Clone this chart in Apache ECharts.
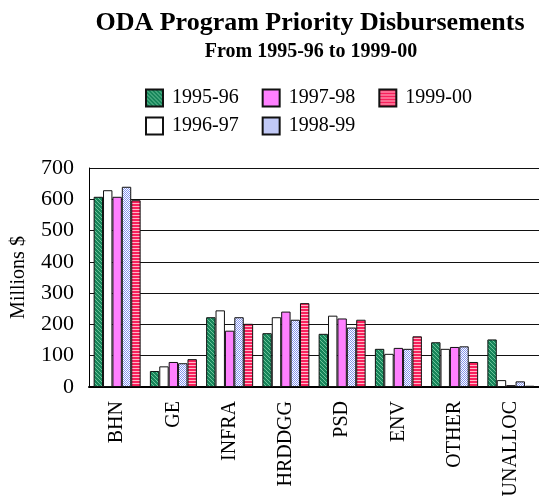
<!DOCTYPE html>
<html><head><meta charset="utf-8">
<script src="https://cdn.jsdelivr.net/npm/echarts@6/dist/echarts.min.js"></script>
<style>html,body{margin:0;padding:0;background:#fff}#c{width:539px;height:504px}</style>
</head><body><div id="c"></div>
<script>
const categories = ['BHN','GE','INFRA','HRDDGG','PSD','ENV','OTHER','UNALLOC'];
const seriesNames = ['1995-96','1996-97','1997-98','1998-99','1999-00'];
const v199596 = [608, 51, 223, 172, 170, 122, 143, 152];
const v199697 = [629, 66, 245, 223, 228, 106, 122, 22];
const v199798 = [608, 80, 180, 241, 219, 125, 128, 6];
const v199899 = [640, 76, 223, 215, 190, 122, 130, 18];
const v199900 = [597, 89, 202, 268, 215, 162, 80, 4];
const yTicks = [0, 100, 200, 300, 400, 500, 600, 700];

function pattern(w, h, draw) {
  const c = document.createElement('canvas');
  c.width = w; c.height = h;
  draw(c.getContext('2d'));
  return {image: c, repeat: 'repeat'};
}
const greenPat = pattern(4, 4, g => {
  g.fillStyle = '#17855a'; g.fillRect(0,0,4,4);
  g.fillStyle = '#6cc49a';
  for (let i = 0; i < 4; i++) g.fillRect(i, i, 1, 1);
});
const bluePat = pattern(2, 2, g => {
  g.fillStyle = '#ffffff'; g.fillRect(0,0,2,2);
  g.fillStyle = '#8494ee'; g.fillRect(0,0,1,1); g.fillRect(1,1,1,1);
});
const redPat = pattern(3, 3, g => {
  g.fillStyle = '#f8205c'; g.fillRect(0,0,3,3);
  g.fillStyle = '#ffb8c8'; g.fillRect(0,2,3,1);
});
const fills = [greenPat, '#ffffff', '#ff80ff', bluePat, redPat];
const values = [v199596, v199697, v199798, v199899, v199900];
const font = 'Liberation Serif';

const legendText = {fontFamily: font, fontSize: 20, color: '#000', padding: [0, 0, 0, 4]};

const chart = echarts.init(document.getElementById('c'), null, {renderer: 'canvas'});
chart.setOption({
  animation: false,
  textStyle: {fontFamily: font, color: '#000'},
  title: [
    {text: 'ODA Program Priority Disbursements', left: 305, top: 5, textAlign: 'center',
     textStyle: {fontFamily: font, fontSize: 26, fontWeight: 'bold', color: '#000'}},
    {text: 'From 1995-96 to 1999-00', left: 306, top: 37, textAlign: 'center',
     textStyle: {fontFamily: font, fontSize: 20, fontWeight: 'bold', color: '#000'}}
  ],
  legend: [
    {data: ['1995-96','1997-98','1999-00'], left: 145, top: 88, padding: 0, icon: 'rect',
     itemWidth: 17, itemHeight: 17, itemGap: 23, textStyle: legendText},
    {data: ['1996-97','1998-99'], left: 145, top: 116, padding: 0, icon: 'rect',
     itemWidth: 17, itemHeight: 17, itemGap: 23, textStyle: legendText}
  ],
  grid: {left: 89, top: 168, width: 453, height: 219, containLabel: false},
  xAxis: {
    type: 'category', data: categories,
    axisLine: {lineStyle: {color: '#000', width: 2}},
    axisTick: {alignWithLabel: true, length: 8, lineStyle: {color: '#000', width: 2}},
    axisLabel: {rotate: 90, margin: 14, fontFamily: font, fontSize: 20, color: '#000'}
  },
  yAxis: {
    type: 'value', min: 0, max: 700, interval: 100,
    name: 'Millions $', nameLocation: 'middle', nameGap: 60,
    nameTextStyle: {fontFamily: font, fontSize: 20, color: '#000'},
    axisLine: {show: true, lineStyle: {color: '#000', width: 1}},
    axisTick: {show: false},
    axisLabel: {fontFamily: font, fontSize: 22, color: '#000', margin: 15,
      formatter: v => yTicks.includes(v) ? String(v) : ''},
    splitLine: {lineStyle: {color: '#111', width: 1}}
  },
  series: seriesNames.map((n, i) => ({
    name: n, type: 'bar', data: values[i],
    barWidth: 9.4, barGap: '0%',
    itemStyle: {color: fills[i], borderColor: '#111', borderWidth: 1}
  }))
});
</script></body></html>
